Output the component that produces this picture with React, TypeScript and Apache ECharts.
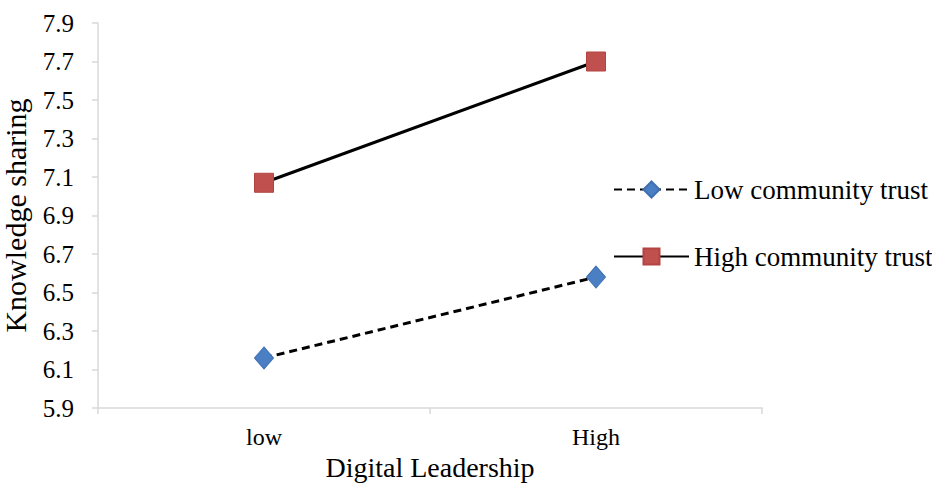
import React, { useEffect, useRef } from "react";
import * as echarts from "echarts";

const categories = ["low", "High"];
const lowTrust = [6.16, 6.58];
const highTrust = [7.07, 7.7];
const seriesNames = ["Low community trust", "High community trust"];

const FONT = "Liberation Serif";

export default function App() {
  const ref = useRef<HTMLDivElement>(null);
  useEffect(() => {
    if (!ref.current) return;
    const chart = echarts.init(ref.current, undefined, { renderer: "svg" });
    chart.setOption({
      animation: false,
      backgroundColor: "#ffffff",
      textStyle: { fontFamily: FONT },
      grid: { left: 98, right: 170, top: 23, bottom: 76, containLabel: false, outerBoundsMode: "none" },
      legend: {
        orient: "vertical",
        left: 608,
        top: 171,
        itemWidth: 75,
        itemHeight: 20,
        itemGap: 40,
        textStyle: { fontFamily: FONT, fontSize: 27, color: "#000" },
        data: seriesNames,
      },
      xAxis: {
        type: "category",
        data: categories,
        boundaryGap: true,
        name: "Digital Leadership",
        nameLocation: "middle",
        nameGap: 38,
        nameTextStyle: { fontFamily: FONT, fontSize: 28, color: "#000" },
        axisLine: { lineStyle: { color: "#d9d9d9", width: 1.5 } },
        axisTick: { show: true, length: 6, lineStyle: { color: "#d9d9d9", width: 1.5 } },
        axisLabel: { fontFamily: FONT, fontSize: 24, color: "#000", margin: 17 },
        splitLine: { show: false },
      },
      yAxis: {
        type: "value",
        min: 5.9,
        max: 7.9,
        interval: 0.2,
        name: "Knowledge sharing",
        nameLocation: "middle",
        nameGap: 68,
        nameRotate: 90,
        nameTextStyle: { fontFamily: FONT, fontSize: 30, color: "#000" },
        axisLine: { show: true, lineStyle: { color: "#d9d9d9", width: 1.5 } },
        axisTick: { show: true, length: 6, lineStyle: { color: "#d9d9d9", width: 1.5 } },
        axisLabel: {
          fontFamily: FONT,
          fontSize: 25,
          color: "#000",
          margin: 24,
          formatter: (v: number) => v.toFixed(1),
        },
        splitLine: { show: false },
      },
      series: [
        {
          name: seriesNames[0],
          type: "line",
          data: lowTrust,
          symbol: "diamond",
          symbolSize: [19, 22],
          itemStyle: { color: "#4a7fc4", borderColor: "#3f70b3", borderWidth: 1 },
          lineStyle: { color: "#000", width: 3, type: [8, 5] },
        },
        {
          name: seriesNames[1],
          type: "line",
          data: highTrust,
          symbol: "rect",
          symbolSize: 19,
          itemStyle: { color: "#c0504d", borderColor: "#b24542", borderWidth: 1 },
          lineStyle: { color: "#000", width: 3, type: "solid" },
        },
      ],
    });
    return () => chart.dispose();
  }, []);
  return (
    <div
      ref={ref}
      style={{ position: "absolute", left: 0, top: 0, width: 932, height: 484 }}
    />
  );
}
